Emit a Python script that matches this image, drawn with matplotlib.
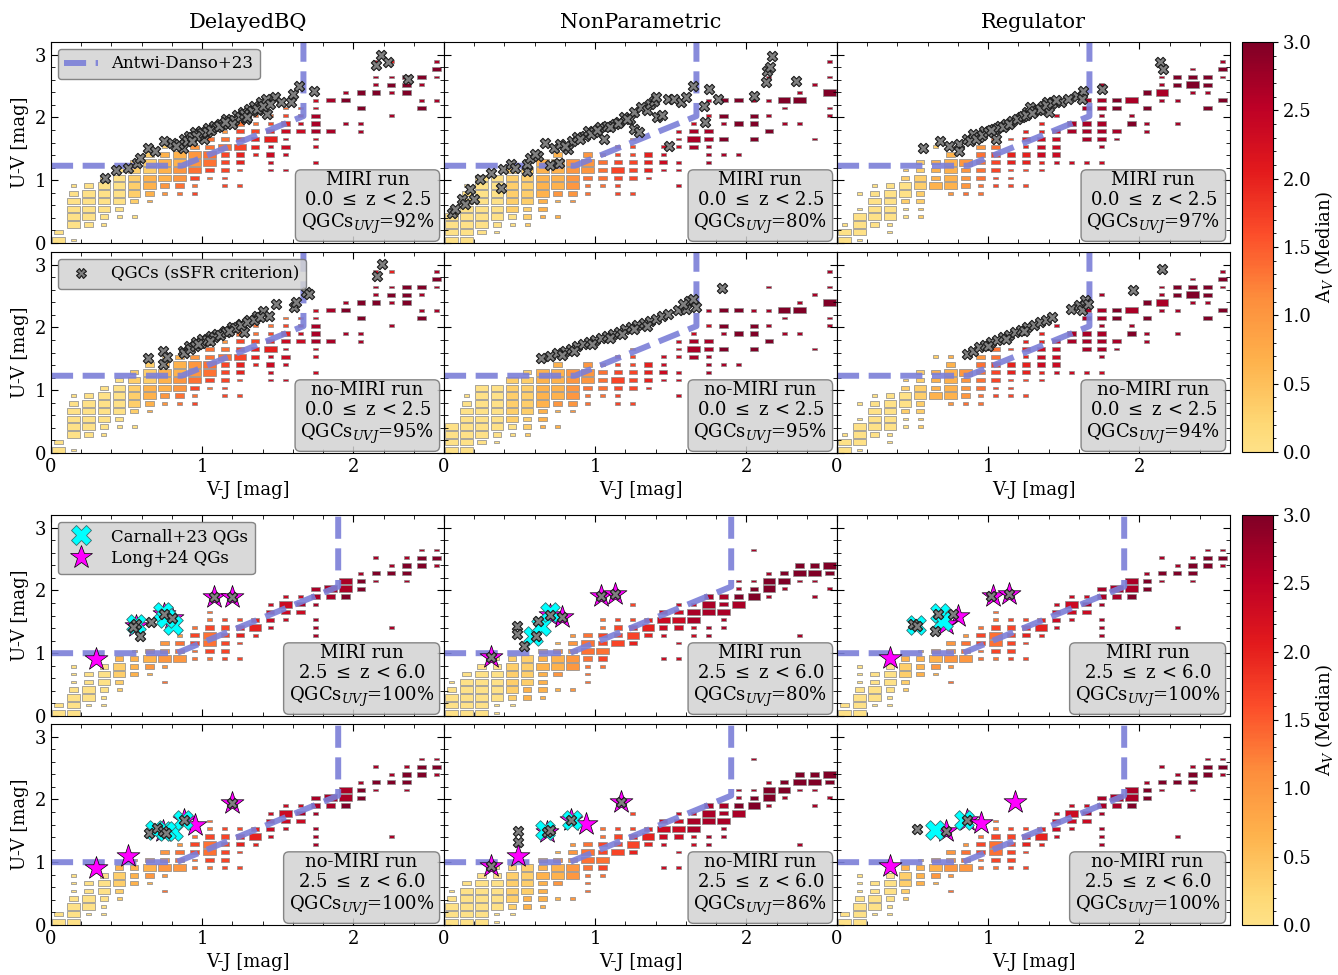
import numpy as np
import matplotlib
matplotlib.use("Agg")
import matplotlib.pyplot as plt
import matplotlib.colors as mcolors
from matplotlib.patches import Rectangle
from matplotlib.collections import PatchCollection
from matplotlib.lines import Line2D
from matplotlib.ticker import MultipleLocator
from matplotlib.cm import ScalarMappable

plt.rcParams["font.family"] = "serif"
plt.rcParams["font.serif"] = ["DejaVu Serif"]
plt.rcParams["mathtext.fontset"] = "dejavuserif"

# ─── Texts ────────────────────────────────────────────────────────────────────
MODELS  = ["DelayedBQ", "NonParametric", "Regulator"]
RUNS    = ["MIRI run", "no-MIRI run", "MIRI run", "no-MIRI run"]
ZRANGES = ["0.0 $\\leq$ z < 2.5", "0.0 $\\leq$ z < 2.5",
           "2.5 $\\leq$ z < 6.0", "2.5 $\\leq$ z < 6.0"]
QGC_PCT = [[92, 80, 97], [95, 95, 94], [100, 80, 100], [100, 86, 100]]

# ─── Binned U-V / V-J maps ────────────────────────────────────────────────────
# one string per V-J bin (0.05, 0.15, ...): "first U-V bin:cells"
# char = Av level k (Av = k/3); uppercase = big cell, digit = medium, lowercase = small
VJ0, DVJ = 0.05, 0.1
UV0, DUV = 0.05, 0.1235

LOWZ_DBQ = ["0:A0", "0:a.AAAA0a", "2:0AAAA0", "2:a0AAAA0", "3:a0AAAA0",
            "3:a.1BBBB1", "5:c2CCBB1", "6:d3CCC2b", "6:e4DDCC2", "6:fe5EDD3c",
            "8:e5EE44d", "7:ff555E4dc", "7:f.f66F554d", "11:g665ee", "9:hh7hG6fe",
            "9:h.h7h76fe", "14:7hgf", "10:h.hh888hh", "14:8...8", "15:i..9i",
            "14:ii.9.9", "19:9ii.h", "16:i..i9i.g", "19:999", "17:9i.i9", "18:i..i9i"]

LOWZ_NP = ["0:AAAA", "0:AAAAAA0a", "1:0AAAAAAA", "1:a0AAAAAA", "2:a0BBBBBB",
           "2:b11BBBBB1", "3:c22CCCCC", "3:c.c3CCCC2", "5:d3DDDD", "6:ee4DD3",
           "7:e444e", "6:ff5F5ff", "6:f.555ffe", "8:g666", "9:h7hh",
           "7:h.hh.hhh", "12:8I8h", "10:iii88.h.i", "11:i.9.i9.9", "11:i...9..9",
           "13:9.99.i", "14:9.i.i..i", "15:i.iJ", "15:i..Ji", "13:i......i", "16:ii.J.i.i"]

LOWZ_REG = ["0:AAa", "0:aAAAa.a", "2:0AAA0a", "1:aaAAAA0", "3:aa1AA1b",
            "3:bb11BB11", "7:C222.b", "6:dCCCC2c", "6:e333D", "6:ee44443",
            "7:ff55544", "7:fff66.f", "7:f.f66g6g", "9:gg777gg", "10:h7777.h",
            "10:h...88", "10:h..888.88", "10:h.i888i88.i", "13:i8..99", "15:9i.I",
            "14:ii.9.9", "18:iIii", "15:i..i.99", "19:iJ9i", "17:9.i99", "18:9..i9i"]

HIZ_DBQ = ["0:A0", "0:AAA0aaa", "1:aAA00", "1:aa0AA0", "3:b1BB2",
           "5:222c", "5:c3C3", "4:e.dD33", "7:D44d", "7:ee55e",
           "7:e5EE5ee", "7:f5555f", "7:f.f66f", "10:gG6", "11:h77h",
           "12:h7Hh", "13:78h", "10:iii.i88", "15:8I", "15:9II",
           "16:99i", "17:i9.i", "11:i......9i", "17:i99i", "19:99i", "19:i9i"]

HIZ_NP = ["0:AAA0a", "0:AAAAA0", "0:AAAAAA0", "0:aaAAAA0a", "1:a1BBBB1",
          "2:22BBBB", "2:c222C22", "3:c.3CC3c", "3:d..DD33d", "4:eee4EE4",
          "6:e5E55ee", "9:F55f", "9:6F6f.f", "10:6G6", "7:h..h7H7",
          "7:h.h.7H7h", "10:hhIIh", "10:ii.II8", "11:iiI88", "14:I9ii",
          "15:J9i...i", "15:iJJi", "16:iJ9", "10:i......iJ9", "15:i.iJ9", "16:i.9J"]

GRIDS = [[LOWZ_DBQ, LOWZ_NP, LOWZ_REG],
         [LOWZ_DBQ, LOWZ_NP, LOWZ_REG],
         [HIZ_DBQ, HIZ_NP, HIZ_DBQ],
         [HIZ_DBQ, HIZ_NP, HIZ_DBQ]]

# ─── Antwi-Danso+23 selection boxes ──────────────────────────────────────────
LOWZ_BOX_VJ = [0.0, 0.866, 1.67, 1.67]
LOWZ_BOX_UV = [1.23, 1.23, 2.02, 3.3]
HIZ_BOX_VJ  = [0.0, 0.83, 1.9, 1.9]
HIZ_BOX_UV  = [1.0, 1.0, 2.06, 3.3]

# ─── QGCs (sSFR criterion) ───────────────────────────────────────────────────
QGC_VJ_11 = [0.36, 0.43, 0.51, 0.57, 0.59, 0.64, 0.69, 0.75, 0.80, 0.87, 0.88, 0.91, 0.95, 0.99,
             1.01, 1.04, 1.08, 1.12, 1.16, 1.19, 1.23, 1.27, 1.29, 1.31, 1.34, 1.37, 1.39, 1.42,
             1.43, 1.48, 1.52, 1.59, 1.60, 1.64, 1.74, 2.18, 2.15, 2.23, 2.36, 0.85, 0.90, 0.93,
             0.97, 1.00, 1.03, 1.06, 1.10, 1.14, 1.18, 1.21, 1.25, 1.28, 1.33, 1.36, 1.40, 1.45,
             1.30, 1.20, 1.11, 0.96, 0.83, 0.93, 1.15]
QGC_UV_11 = [1.04, 1.16, 1.19, 1.27, 1.35, 1.51, 1.47, 1.63, 1.60, 1.52, 1.65, 1.71, 1.76, 1.79,
             1.65, 1.83, 1.87, 1.89, 1.97, 1.92, 2.03, 2.08, 1.97, 2.13, 2.18, 2.11, 2.24, 2.29,
             2.05, 2.32, 2.24, 2.24, 2.38, 2.50, 2.42, 3.00, 2.84, 2.88, 2.61, 1.58, 1.62, 1.68,
             1.72, 1.75, 1.77, 1.80, 1.84, 1.90, 1.94, 1.96, 2.00, 2.05, 2.10, 2.14, 2.18, 2.22,
             2.01, 1.90, 1.86, 1.70, 1.55, 1.63, 1.93]

QGC_VJ_12 = [0.05, 0.07, 0.12, 0.14, 0.17, 0.20, 0.24, 0.31, 0.38, 0.39, 0.44, 0.47, 0.55, 0.55,
             0.57, 0.62, 0.67, 0.70, 0.76, 0.73, 0.77, 0.82, 0.85, 0.88, 0.93, 0.95, 0.99, 1.03,
             1.06, 1.08, 1.13, 1.16, 1.19, 1.23, 1.26, 1.29, 1.26, 1.30, 1.34, 1.36, 1.39, 1.40,
             1.41, 1.44, 1.48, 1.49, 1.52, 1.57, 1.60, 1.65, 1.72, 1.73, 1.75, 1.81, 2.05, 2.13,
             2.14, 2.16, 2.17, 2.33, 0.90, 0.97, 1.01, 1.10, 1.15, 1.21, 0.80, 0.60]
QGC_UV_12 = [0.48, 0.54, 0.70, 0.62, 0.86, 0.70, 1.02, 1.12, 0.88, 1.18, 1.26, 1.20, 1.15, 1.26,
             1.36, 1.39, 1.60, 1.24, 1.27, 1.52, 1.57, 1.49, 1.63, 1.68, 1.71, 1.79, 1.76, 1.84,
             1.65, 1.87, 1.89, 1.92, 2.00, 1.97, 1.81, 1.76, 2.08, 2.16, 2.11, 2.21, 2.26, 2.32,
             2.00, 2.03, 2.29, 1.55, 2.29, 2.24, 2.32, 2.50, 2.18, 1.92, 2.45, 2.29, 2.34, 2.56,
             2.74, 2.80, 2.97, 2.58, 1.66, 1.74, 1.80, 1.85, 1.91, 1.97, 1.55, 1.42]

QGC_VJ_13 = [0.57, 0.68, 0.74, 0.81, 0.81, 0.86, 0.90, 0.94, 0.97, 1.04, 1.05, 1.08, 1.12, 1.16,
             1.22, 1.26, 1.28, 1.33, 1.36, 1.39, 1.40, 1.48, 1.53, 1.59, 1.63, 1.62, 1.75, 2.14,
             2.16, 0.88, 0.92, 0.96, 1.00, 1.06, 1.10, 1.14, 1.19, 1.23, 1.30, 1.34, 1.38, 1.42,
             1.45, 1.02, 1.25, 1.29]
QGC_UV_13 = [1.51, 1.63, 1.55, 1.57, 1.47, 1.65, 1.73, 1.68, 1.79, 1.81, 1.65, 1.87, 1.89, 1.95,
             2.00, 2.08, 2.16, 2.11, 2.18, 2.24, 2.08, 2.24, 2.29, 2.34, 2.42, 2.29, 2.45, 2.88,
             2.77, 1.62, 1.66, 1.72, 1.76, 1.83, 1.85, 1.90, 1.97, 2.02, 2.10, 2.13, 2.20, 2.23,
             2.27, 1.80, 2.04, 2.07]

QGC_VJ_21 = [0.64, 0.74, 0.74, 0.77, 0.87, 0.91, 0.96, 1.00, 1.06, 1.10, 1.15, 1.20, 1.26, 1.28,
             1.31, 1.36, 1.40, 1.44, 1.49, 1.61, 1.62, 1.69, 1.71, 2.16, 2.19, 0.88, 0.92, 0.95,
             0.99, 1.03, 1.08, 1.12, 1.16, 1.22, 1.26, 1.30, 1.34, 1.38, 1.05, 1.18, 0.97]
QGC_UV_21 = [1.51, 1.63, 1.41, 1.53, 1.63, 1.71, 1.76, 1.81, 1.87, 1.89, 1.95, 2.00, 2.05, 1.92,
             2.11, 2.18, 2.26, 2.18, 2.37, 2.32, 2.40, 2.56, 2.53, 2.81, 3.01, 1.60, 1.66, 1.70,
             1.75, 1.80, 1.84, 1.88, 1.93, 1.99, 2.03, 2.08, 2.12, 2.17, 1.78, 1.95, 1.73]

QGC_VJ_22 = [0.64, 0.70, 0.75, 0.80, 0.84, 0.88, 0.92, 0.96, 1.00, 1.04, 1.08, 1.12, 1.16, 1.20,
             1.24, 1.28, 1.32, 1.36, 1.40, 1.44, 1.10, 1.18, 0.98, 1.26, 1.34, 1.48, 1.55, 1.60,
             1.62, 1.65, 1.58, 1.67, 1.84, 0.86, 0.78]
QGC_UV_22 = [1.52, 1.55, 1.60, 1.63, 1.66, 1.70, 1.73, 1.76, 1.80, 1.83, 1.86, 1.90, 1.93, 1.97,
             2.00, 2.04, 2.07, 2.10, 2.14, 2.18, 1.83, 1.90, 1.74, 1.98, 2.02, 2.22, 2.28, 2.30,
             2.42, 2.45, 2.38, 2.32, 2.62, 1.62, 1.56]

QGC_VJ_23 = [0.86, 0.90, 0.94, 0.98, 1.02, 1.06, 1.10, 1.14, 1.18, 1.22, 1.26, 1.30, 1.34, 1.38,
             1.42, 1.00, 1.12, 1.24, 1.55, 1.60, 1.64, 1.62, 1.66, 1.96, 2.15]
QGC_UV_23 = [1.58, 1.62, 1.68, 1.72, 1.76, 1.80, 1.84, 1.88, 1.92, 1.96, 2.00, 2.04, 2.08, 2.12,
             2.16, 1.70, 1.82, 1.95, 2.30, 2.35, 2.44, 2.28, 2.38, 2.60, 2.93]

QGC_VJ_31 = [0.56, 0.59, 0.66, 0.75, 0.80, 1.08, 1.20, 0.54]
QGC_UV_31 = [1.46, 1.28, 1.50, 1.63, 1.56, 1.89, 1.90, 1.42]
QGC_VJ_32 = [0.31, 0.48, 0.48, 0.53, 0.61, 0.62, 0.70, 0.78, 1.04, 1.13]
QGC_UV_32 = [0.94, 1.44, 1.30, 1.12, 1.27, 1.52, 1.61, 1.57, 1.91, 1.94]
QGC_VJ_33 = [0.50, 0.67, 0.77, 1.02, 1.14, 0.65, 0.53]
QGC_UV_33 = [1.46, 1.63, 1.63, 1.91, 1.95, 1.35, 1.43]
QGC_VJ_41 = [0.65, 0.70, 0.74, 0.88, 1.20, 0.76]
QGC_UV_41 = [1.47, 1.54, 1.49, 1.67, 1.94, 1.47]
QGC_VJ_42 = [0.49, 0.49, 0.68, 0.70, 0.84, 1.17, 0.31]
QGC_UV_42 = [1.50, 1.32, 1.48, 1.52, 1.67, 1.96, 0.94]
QGC_VJ_43 = [0.53, 0.72, 0.86]
QGC_UV_43 = [1.53, 1.50, 1.67]

QGC_VJ = [[QGC_VJ_11, QGC_VJ_12, QGC_VJ_13], [QGC_VJ_21, QGC_VJ_22, QGC_VJ_23],
          [QGC_VJ_31, QGC_VJ_32, QGC_VJ_33], [QGC_VJ_41, QGC_VJ_42, QGC_VJ_43]]
QGC_UV = [[QGC_UV_11, QGC_UV_12, QGC_UV_13], [QGC_UV_21, QGC_UV_22, QGC_UV_23],
          [QGC_UV_31, QGC_UV_32, QGC_UV_33], [QGC_UV_41, QGC_UV_42, QGC_UV_43]]

# ─── Spectroscopic QGs (high-z rows) ──────────────────────────────────────────
LONG_VJ_31 = [0.30, 0.56, 0.75, 0.80, 1.08, 1.20]
LONG_UV_31 = [0.90, 1.44, 1.63, 1.56, 1.89, 1.90]
LONG_VJ_32 = [0.31, 0.70, 0.78, 1.04, 1.13]
LONG_UV_32 = [0.94, 1.61, 1.57, 1.91, 1.94]
LONG_VJ_33 = [0.35, 0.80, 1.03, 1.14, 0.72]
LONG_UV_33 = [0.93, 1.59, 1.91, 1.95, 1.47]
LONG_VJ_41 = [0.30, 0.51, 0.74, 0.88, 0.95, 1.20]
LONG_UV_41 = [0.91, 1.10, 1.49, 1.67, 1.59, 1.94]
LONG_VJ_42 = [0.31, 0.49, 0.68, 0.84, 0.94, 1.17]
LONG_UV_42 = [0.94, 1.10, 1.48, 1.67, 1.61, 1.96]
LONG_VJ_43 = [0.35, 0.72, 0.86, 0.95, 1.18]
LONG_UV_43 = [0.94, 1.50, 1.67, 1.63, 1.96]

CARN_VJ_31 = [0.56, 0.74, 0.81, 0.76]
CARN_UV_31 = [1.46, 1.65, 1.45, 1.56]
CARN_VJ_32 = [0.59, 0.64, 0.70]
CARN_UV_32 = [1.28, 1.44, 1.65]
CARN_VJ_33 = [0.52, 0.68, 0.70]
CARN_UV_33 = [1.45, 1.64, 1.52]
CARN_VJ_41 = [0.69, 0.81, 0.87, 0.76]
CARN_UV_41 = [1.52, 1.49, 1.67, 1.49]
CARN_VJ_42 = [0.67, 0.85]
CARN_UV_42 = [1.52, 1.67]
CARN_VJ_43 = [0.65, 0.84]
CARN_UV_43 = [1.52, 1.67]

LONG_VJ = [[LONG_VJ_31, LONG_VJ_32, LONG_VJ_33], [LONG_VJ_41, LONG_VJ_42, LONG_VJ_43]]
LONG_UV = [[LONG_UV_31, LONG_UV_32, LONG_UV_33], [LONG_UV_41, LONG_UV_42, LONG_UV_43]]
CARN_VJ = [[CARN_VJ_31, CARN_VJ_32, CARN_VJ_33], [CARN_VJ_41, CARN_VJ_42, CARN_VJ_43]]
CARN_UV = [[CARN_UV_31, CARN_UV_32, CARN_UV_33], [CARN_UV_41, CARN_UV_42, CARN_UV_43]]

# ─── Styles ───────────────────────────────────────────────────────────────────
BOX_COLOR = "#7b7fd8"
base = plt.get_cmap("YlOrRd")
cmap = mcolors.LinearSegmentedColormap.from_list("ylorrd_cut", base(np.linspace(0.2, 1.0, 256)))
norm = mcolors.Normalize(0, 3)

W, H = 1338, 975
COL_X = [51, 444, 837]
ROW_Y = [42, 252, 515, 724]
PW, PH = 393, 201

fig = plt.figure(figsize=(W / 100, H / 100), dpi=100)


def px_axes(x, y, w, h):
    return fig.add_axes([x / W, 1 - (y + h) / H, w / W, h / H])


def draw_cells(ax, grid):
    rects, vals = [], []
    for i, col in enumerate(grid):
        start, cells = col.split(":")
        for k, ch in enumerate(cells):
            if ch == ".":
                continue
            j = int(start) + k
            if ch.isdigit():
                frac, lev = 0.57, int(ch)
            elif ch.isupper():
                frac, lev = 0.84, ord(ch) - ord("A")
            else:
                frac, lev = 0.33, ord(ch) - ord("a")
            xc, yc = VJ0 + DVJ * i, UV0 + DUV * j
            w, h = DVJ * frac, DUV * frac
            rects.append(Rectangle((xc - w / 2, yc - h / 2), w, h))
            vals.append(lev / 3)
    pc = PatchCollection(rects, cmap=cmap, norm=norm, edgecolor=(0.55, 0.55, 0.55, 0.75),
                         linewidth=0.7, zorder=1)
    pc.set_array(np.array(vals))
    ax.add_collection(pc)


for r in range(4):
    for c in range(3):
        ax = px_axes(COL_X[c], ROW_Y[r], PW, PH)
        draw_cells(ax, GRIDS[r][c])

        bvj, buv = (LOWZ_BOX_VJ, LOWZ_BOX_UV) if r < 2 else (HIZ_BOX_VJ, HIZ_BOX_UV)
        ax.plot(bvj, buv, ls="--", lw=4.3, color=BOX_COLOR, alpha=0.9, zorder=2)

        if r >= 2:
            ax.scatter(LONG_VJ[r - 2][c], LONG_UV[r - 2][c], marker="*", s=300, c="magenta",
                       edgecolors="k", linewidths=0.5, zorder=3)
            ax.scatter(CARN_VJ[r - 2][c], CARN_UV[r - 2][c], marker="X", s=200, c="cyan",
                       edgecolors="#3b6e6e", linewidths=0.6, zorder=3)
        ax.scatter(QGC_VJ[r][c], QGC_UV[r][c], marker="X", s=55, c="#808080",
                   edgecolors="#1a1a1a", linewidths=0.8, zorder=4)

        txt = f"{RUNS[r]}\n{ZRANGES[r]}\nQGCs$_{{UVJ}}$={QGC_PCT[r][c]}%"
        ax.text(0.975, 0.035, txt, transform=ax.transAxes, ha="right", va="bottom",
                multialignment="center", fontsize=13, linespacing=1.15, zorder=6,
                bbox=dict(boxstyle="round,pad=0.3", facecolor="lightgrey", edgecolor="0.45", alpha=0.85))

        ax.set_xlim(0, 2.6)
        ax.set_ylim(0, 3.2)
        ax.xaxis.set_major_locator(MultipleLocator(1))
        ax.xaxis.set_minor_locator(MultipleLocator(0.2))
        ax.yaxis.set_major_locator(MultipleLocator(1))
        ax.yaxis.set_minor_locator(MultipleLocator(0.2))
        ax.tick_params(which="both", direction="in", top=True, right=True, labelsize=13)
        ax.tick_params(which="major", length=5)
        ax.tick_params(which="minor", length=3)

        if c == 0:
            ax.set_ylabel("U-V [mag]", fontsize=13, labelpad=4)
        else:
            ax.tick_params(labelleft=False)
        if r in (1, 3):
            ax.set_xlabel("V-J [mag]", fontsize=13, labelpad=4)
        else:
            ax.tick_params(labelbottom=False)
        if r == 0:
            ax.set_title(MODELS[c], fontsize=15, pad=10)

        if c == 0 and r == 0:
            h = [Line2D([], [], ls="--", lw=4.3, color=BOX_COLOR, alpha=0.9)]
            ax.legend(h, ["Antwi-Danso+23"], loc="upper left", fontsize=12, facecolor="lightgrey",
                      edgecolor="0.45", framealpha=0.85, handlelength=2.0, borderaxespad=0.4)
        if c == 0 and r == 1:
            h = [Line2D([], [], ls="none", marker="X", ms=7, mfc="#808080", mec="#1a1a1a", mew=0.8)]
            ax.legend(h, ["QGCs (sSFR criterion)"], loc="upper left", fontsize=12, facecolor="lightgrey",
                      edgecolor="0.45", framealpha=0.85, borderaxespad=0.4)
        if c == 0 and r == 2:
            h = [Line2D([], [], ls="none", marker="X", ms=14, mfc="cyan", mec="#3b6e6e", mew=0.6),
                 Line2D([], [], ls="none", marker="*", ms=17, mfc="magenta", mec="k", mew=0.5)]
            ax.legend(h, ["Carnall+23 QGs", "Long+24 QGs"], loc="upper left", fontsize=12,
                      facecolor="lightgrey", edgecolor="0.45", framealpha=0.85, borderaxespad=0.4,
                      labelspacing=0.3)

for top, bot in [(42, 452), (515, 925)]:
    cax = px_axes(1242, top, 31, bot - top)
    cb = fig.colorbar(ScalarMappable(norm=norm, cmap=cmap), cax=cax)
    cb.set_ticks(np.arange(0, 3.01, 0.5))
    cb.ax.yaxis.set_minor_locator(MultipleLocator(0.1))
    cb.ax.tick_params(labelsize=13)
    cb.set_label("A$_{V}$ (Median)", fontsize=13, labelpad=1)

fig.savefig("out.png", dpi=100)
